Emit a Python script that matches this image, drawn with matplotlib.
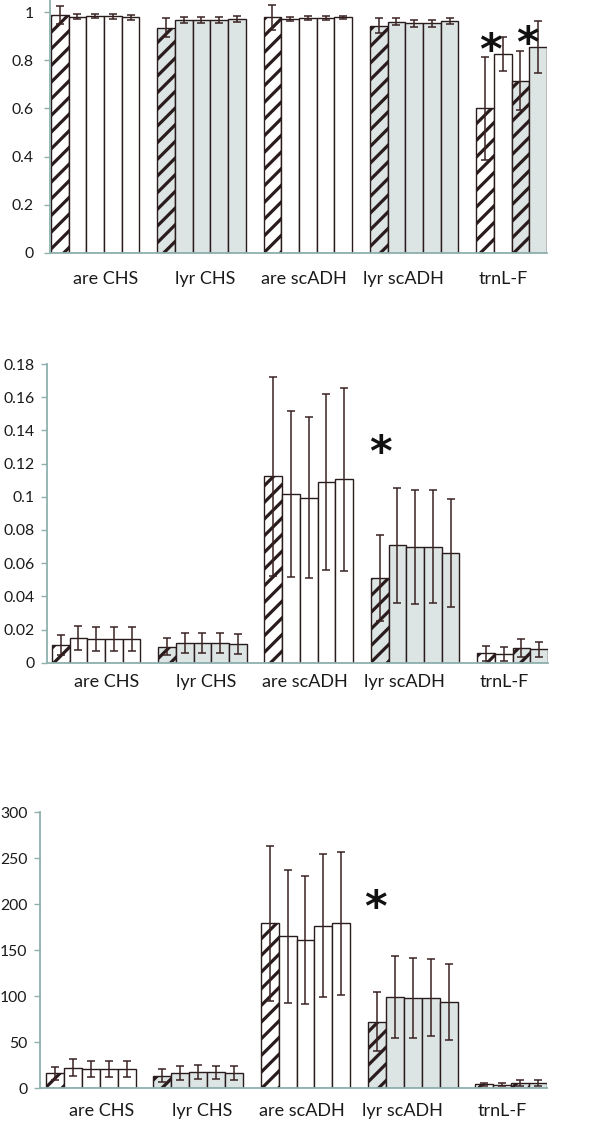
import numpy as np
import matplotlib
matplotlib.use("Agg")
import matplotlib.pyplot as plt
from matplotlib.ticker import FormatStrFormatter

plt.rcParams['font.family'] = ['Lato', 'DejaVu Sans']
plt.rcParams['hatch.linewidth'] = 2.3

# data
categories = ['are CHS', 'lyr CHS', 'are scADH', 'lyr scADH', 'trnL-F']

top_vals = [[0.988, 0.982, 0.984, 0.983, 0.978],
            [0.936, 0.966, 0.966, 0.968, 0.972],
            [0.980, 0.972, 0.975, 0.975, 0.978],
            [0.944, 0.961, 0.954, 0.954, 0.965],
            [0.600, 0.825, 0.715, 0.857]]
top_errs = [[0.039, 0.010, 0.008, 0.010, 0.012],
            [0.040, 0.012, 0.012, 0.012, 0.012],
            [0.052, 0.010, 0.009, 0.009, 0.008],
            [0.032, 0.013, 0.014, 0.014, 0.012],
            [0.215, 0.070, 0.123, 0.108]]

mid_vals = [[0.0106, 0.0150, 0.0143, 0.0143, 0.0143],
            [0.0096, 0.0117, 0.0120, 0.0118, 0.0115],
            [0.1123, 0.1019, 0.0995, 0.1089, 0.1105],
            [0.0511, 0.0708, 0.0698, 0.0698, 0.0662],
            [0.0056, 0.0052, 0.0088, 0.0080]]
mid_errs = [[0.0060, 0.0073, 0.0072, 0.0072, 0.0072],
            [0.0050, 0.0060, 0.0060, 0.0060, 0.0060],
            [0.0600, 0.0500, 0.0485, 0.0530, 0.0550],
            [0.0260, 0.0347, 0.0345, 0.0340, 0.0327],
            [0.0044, 0.0040, 0.0055, 0.0046]]

bot_vals = [[16, 22.1, 20.7, 20.7, 20.7],
            [13.4, 16.7, 17.4, 16.9, 16.7],
            [179, 165.2, 160.9, 176.4, 179],
            [72.1, 99.2, 98.2, 98.2, 93.5],
            [4, 3.5, 5.5, 5.5]]
bot_errs = [[7.2, 9, 9, 9, 9],
            [7, 7.5, 7.5, 7.5, 7.5],
            [84, 72.5, 70, 77.7, 78],
            [32, 44.3, 43.5, 41.7, 41],
            [1.5, 1.5, 3.5, 3]]

# asterisks (x in bar units, y in data units)
top_stars = [(24.8, 0.868), (26.9, 0.897)]
mid_stars = [(18.55, 0.131)]
bot_stars = [(18.4, 204)]

AXIS_COL = '#8fb0ad'
EDGE = '#2a1c1c'
ERR = '#3a2222'
GRAY = '#dde4e4'
TXT = '#1a1a1a'

W, H = 600, 1123
fig = plt.figure(figsize=(W / 100, H / 100), dpi=100)


def px_axes(left, right, y_bottom, y_top):
    # pixel coords measured from the top-left of the picture
    return fig.add_axes([left / W, 1 - y_bottom / H, (right - left) / W, (y_bottom - y_top) / H])


def draw(ax, vals, errs, stars, ymax, yticks, xleft, fmt, label_pad, ypad):
    for g, (gv, ge) in enumerate(zip(vals, errs)):
        for j, (v, e) in enumerate(zip(gv, ge)):
            x = 6 * g + j
            if g == 4:
                hatched = j in (0, 2)
                gray = j in (2, 3)
            else:
                hatched = j == 0
                gray = g in (1, 3)
            ax.bar(x, v, width=1, align='edge', color=GRAY if gray else 'white',
                   edgecolor=EDGE, linewidth=1.0, hatch='//' if hatched else None, zorder=2)
            ax.errorbar(x + 0.5, v, yerr=e, fmt='none', ecolor=ERR, elinewidth=1.1,
                        capsize=3, capthick=1.1, zorder=3)
    for sx, sy in stars:
        ax.annotate('*', (sx, sy), xytext=(0, -6), textcoords='offset points',
                    ha='center', va='center', fontsize=31, fontweight='bold',
                    color='#111111', family='DejaVu Sans', zorder=4)
    ax.set_xlim(xleft, 28)
    ax.set_ylim(0, ymax)
    ax.set_yticks(yticks)
    ax.yaxis.set_major_formatter(fmt)
    ax.set_xticks([3.1 + 5.6 * i for i in range(5)])
    ax.set_xticklabels(categories)
    for s in ['top', 'right']:
        ax.spines[s].set_visible(False)
    for s in ['left', 'bottom']:
        ax.spines[s].set_color(AXIS_COL)
        ax.spines[s].set_linewidth(1.3)
    ax.tick_params(axis='y', direction='out', length=4, width=1, color=AXIS_COL,
                   labelsize=11.3, labelcolor=TXT, pad=ypad)
    ax.tick_params(axis='x', length=0, labelsize=13, labelcolor=TXT, pad=label_pad)


ax1 = px_axes(50, 547, 252.7, 252.7 - 1.05 * 240.5)
draw(ax1, top_vals, top_errs, top_stars, 1.05, [0, 0.2, 0.4, 0.6, 0.8, 1.0], -0.05,
     FormatStrFormatter('%g'), 13, 8)

ax2 = px_axes(47, 548, 662.7, 364)
draw(ax2, mid_vals, mid_errs, mid_stars, 0.18, np.arange(0, 0.181, 0.02), -0.27,
     FormatStrFormatter('%g'), 8, 5)

ax3 = px_axes(40, 547, 1088, 812.3)
draw(ax3, bot_vals, bot_errs, bot_stars, 300, range(0, 301, 50), -0.34,
     FormatStrFormatter('%g'), 11, 5)

fig.savefig('out.png', dpi=100)
